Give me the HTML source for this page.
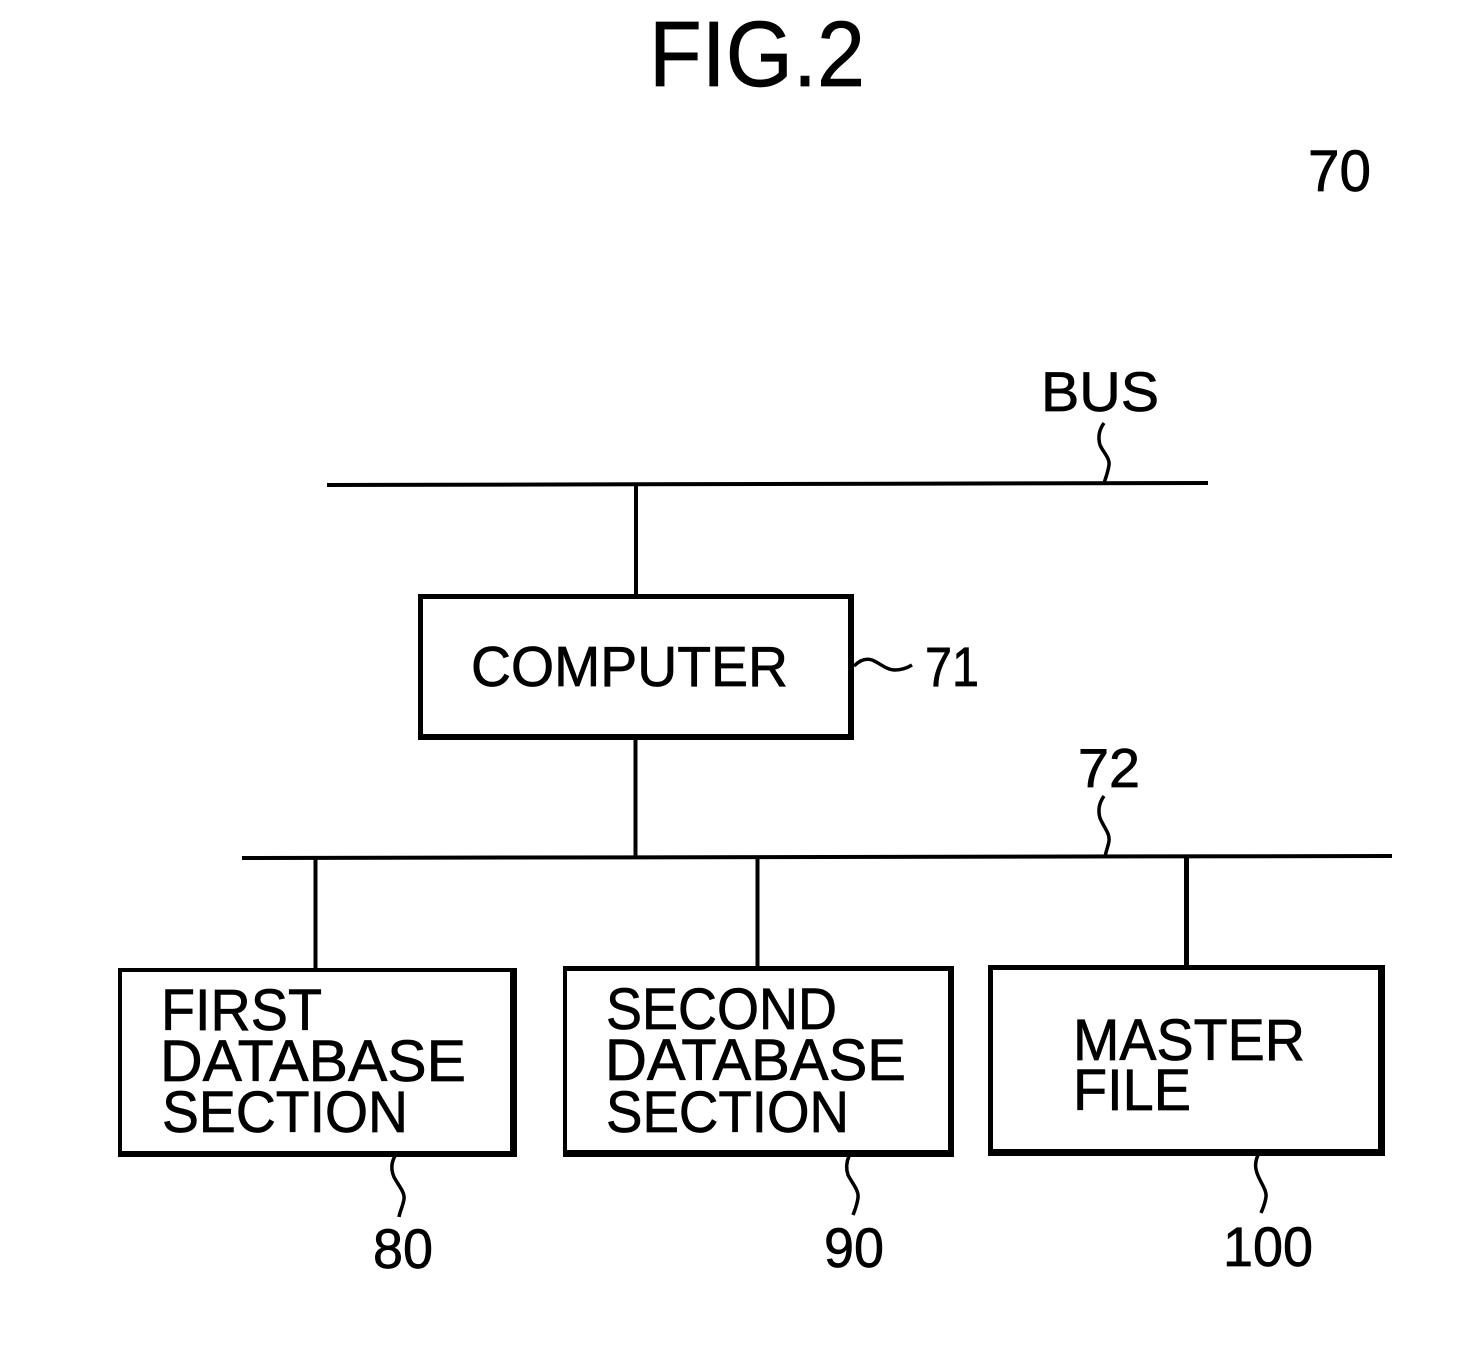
<!DOCTYPE html>
<html>
<head>
<meta charset="utf-8">
<style>
html,body{margin:0;padding:0;background:#fff;width:1472px;height:1359px;overflow:hidden}
svg{display:block}
text{font-family:"Liberation Sans",sans-serif;fill:#000;stroke:#000;stroke-width:.7}
</style>
</head>
<body>
<svg width="1472" height="1359" viewBox="0 0 1472 1359" xmlns="http://www.w3.org/2000/svg">
<rect width="1472" height="1359" fill="#fff"/>
<g stroke="#000" fill="none">
<path d="M327 485L1208 483" stroke-width="4"/>
<path d="M242 858L1392 856" stroke-width="4"/>
<path d="M636 484V596" stroke-width="4"/>
<path d="M635.500 738V857" stroke-width="4"/>
<path d="M315.500 857V969" stroke-width="4"/>
<path d="M757.500 857V968" stroke-width="4"/>
<path d="M1186.500 857V967" stroke-width="5"/>
<path d="M1104 423C1099 430 1098 438 1100 445C1103 452 1110 458 1109 465C1108 472 1106 477 1104 483" stroke-width="3.500"/>
<path d="M1104 796C1099 803 1098 811 1100 818C1103 826 1110 833 1109 841C1108 847 1106 851 1105 857" stroke-width="3.500"/>
<path d="M854 666C860 660 866 658 872 660C880 663 886 670 895 670C902 670 907 668 912 665" stroke-width="3.500"/>
<path d="M395 1156C391 1163 391 1170 394 1177C398 1185 405 1192 404 1199C403 1206 400 1211 399 1217" stroke-width="3.500"/>
<path d="M849 1156C846 1163 846 1169 848 1175C852 1183 859 1190 858 1198C857 1205 855 1210 853 1215" stroke-width="3.500"/>
<path d="M1258 1155C1255 1162 1255 1167 1257 1173C1260 1182 1267 1190 1266 1197C1265 1204 1263 1208 1261 1213" stroke-width="3.500"/>
</g>
<g fill="#000" fill-rule="evenodd">
<path d="M418 594H854V740H418ZM423 599V734H848V599Z"/>
<path d="M118 968H517V1157H118ZM122 972V1151H510V972Z"/>
<path d="M563 966H954V1157H563ZM567 971V1150H948V971Z"/>
<path d="M988 965H1385V1156H988ZM993 970V1149H1378V970Z"/>
</g>
<text x="649" y="86" font-size="93" textLength="216" lengthAdjust="spacingAndGlyphs">FIG.2</text>
<text x="1308" y="191" font-size="58" textLength="63" lengthAdjust="spacingAndGlyphs">70</text>
<text x="1041" y="411" font-size="56" textLength="118" lengthAdjust="spacingAndGlyphs">BUS</text>
<text x="471" y="686" font-size="57" textLength="317" lengthAdjust="spacingAndGlyphs">COMPUTER</text>
<text x="925" y="686" font-size="56" textLength="54" lengthAdjust="spacingAndGlyphs">71</text>
<text x="1078" y="787" font-size="55" textLength="62" lengthAdjust="spacingAndGlyphs">72</text>
<text x="161" y="1030" font-size="58" textLength="161" lengthAdjust="spacingAndGlyphs">FIRST</text>
<text x="160" y="1081" font-size="58" textLength="306" lengthAdjust="spacingAndGlyphs">DATABASE</text>
<text x="162" y="1132" font-size="58" textLength="246" lengthAdjust="spacingAndGlyphs">SECTION</text>
<text x="606" y="1029" font-size="58" textLength="231" lengthAdjust="spacingAndGlyphs">SECOND</text>
<text x="605" y="1080" font-size="58" textLength="301" lengthAdjust="spacingAndGlyphs">DATABASE</text>
<text x="606" y="1132" font-size="58" textLength="243" lengthAdjust="spacingAndGlyphs">SECTION</text>
<text x="1073" y="1060" font-size="58" textLength="232" lengthAdjust="spacingAndGlyphs">MASTER</text>
<text x="1073" y="1110" font-size="58" textLength="118" lengthAdjust="spacingAndGlyphs">FILE</text>
<text x="373" y="1268" font-size="56" textLength="60" lengthAdjust="spacingAndGlyphs">80</text>
<text x="824" y="1267" font-size="56" textLength="60" lengthAdjust="spacingAndGlyphs">90</text>
<text x="1223" y="1266" font-size="56" textLength="90" lengthAdjust="spacingAndGlyphs">100</text>
</svg>
</body>
</html>
